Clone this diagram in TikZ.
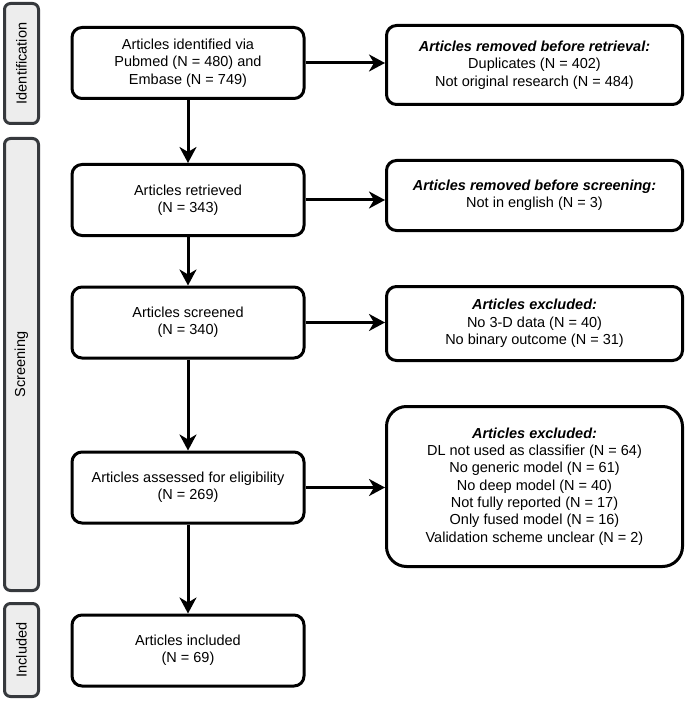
\documentclass[tikz,border=0pt]{standalone}
\usepackage{fontspec}
\setmainfont{Liberation Sans}
\usetikzlibrary{arrows.meta}
\definecolor{stagefill}{HTML}{EDEDED}
\definecolor{stageline}{HTML}{36393D}
\newcommand{\colstage}{21.5}
\newcommand{\colmain}{188}
\newcommand{\colside}{534.5}
\newcommand{\hdr}[1]{\textbf{\textit{#1}}}
\tikzset{
  stagebox/.style={draw=stageline, fill=stagefill, line width=3pt,
    rounded corners=6pt, rotate=90, minimum height=34pt, inner sep=0pt},
  mainbox/.style={draw, line width=3pt, rounded corners=10pt, align=center,
    minimum width=232pt, minimum height=71pt, inner sep=0pt},
  sidebox/.style={draw, line width=3pt, rounded corners=10pt, align=center,
    minimum width=296pt, inner sep=0pt},
  flowarrow/.style={line width=3pt, -{Stealth[length=16pt,width=17pt,inset=5pt]}}
}

\begin{document}
\begin{tikzpicture}[x=1pt,y=1pt,font=\fontsize{14.5}{17.3}\selectfont]
  \useasboundingbox (0,0) rectangle (685,-703);

  % stages
  \node (identification) at (\colstage,-63.5) [stagebox, minimum width=120pt] {Identification};
  \node (screening) at (\colstage,-364.5) [stagebox, minimum width=452pt] {Screening};
  \node (included) at (\colstage,-650) [stagebox, minimum width=93pt] {Included};

  % main column
  \node (identified) at (\colmain,-63) [mainbox]
    {Articles identified via\\Pubmed (N = 480) and\\Embase (N = 749)};
  \node (retrieved) at (\colmain,-200) [mainbox]
    {Articles retrieved\\(N = 343)};
  \node (screened) at (\colmain,-322.5) [mainbox]
    {Articles screened\\(N = 340)};
  \node (assessed) at (\colmain,-487.5) [mainbox]
    {Articles assessed for eligibility\\(N = 269)};
  \node (inclarticles) at (\colmain,-650.5) [mainbox]
    {Articles included\\(N = 69)};

  % removed / excluded
  \node (rmretrieval) at (\colside,-65) [sidebox, minimum height=79pt]
    {\hdr{Articles removed before retrieval:}\\Duplicates (N = 402)\\Not original research (N = 484)};
  \node (rmscreening) at (\colside,-195.5) [sidebox, minimum height=70pt]
    {\hdr{Articles removed before screening:}\\Not in english (N = 3)};
  \node (exclscreen) at (\colside,-323.5) [sidebox, minimum height=74pt]
    {\hdr{Articles excluded:}\\No 3-D data (N = 40)\\No binary outcome (N = 31)};
  \node (exclelig) at (\colside,-486.5) [sidebox, minimum height=160pt, rounded corners=20pt]
    {\hdr{Articles excluded:}\\DL not used as classifier (N = 64)\\No generic model (N = 61)\\No deep model (N = 40)\\Not fully reported (N = 17)\\Only fused model (N = 16)\\Validation scheme unclear (N = 2)};

  % arrows
  \draw[flowarrow] (identified) -- (retrieved);
  \draw[flowarrow] (retrieved) -- (screened);
  \draw[flowarrow] (screened) -- (assessed);
  \draw[flowarrow] (assessed) -- (inclarticles);
  \draw[flowarrow] (identified.east) -- (rmretrieval.west |- identified.east);
  \draw[flowarrow] (retrieved.east) -- (rmscreening.west |- retrieved.east);
  \draw[flowarrow] (screened.east) -- (exclscreen.west |- screened.east);
  \draw[flowarrow] (assessed.east) -- (exclelig.west |- assessed.east);
\end{tikzpicture}
\end{document}
